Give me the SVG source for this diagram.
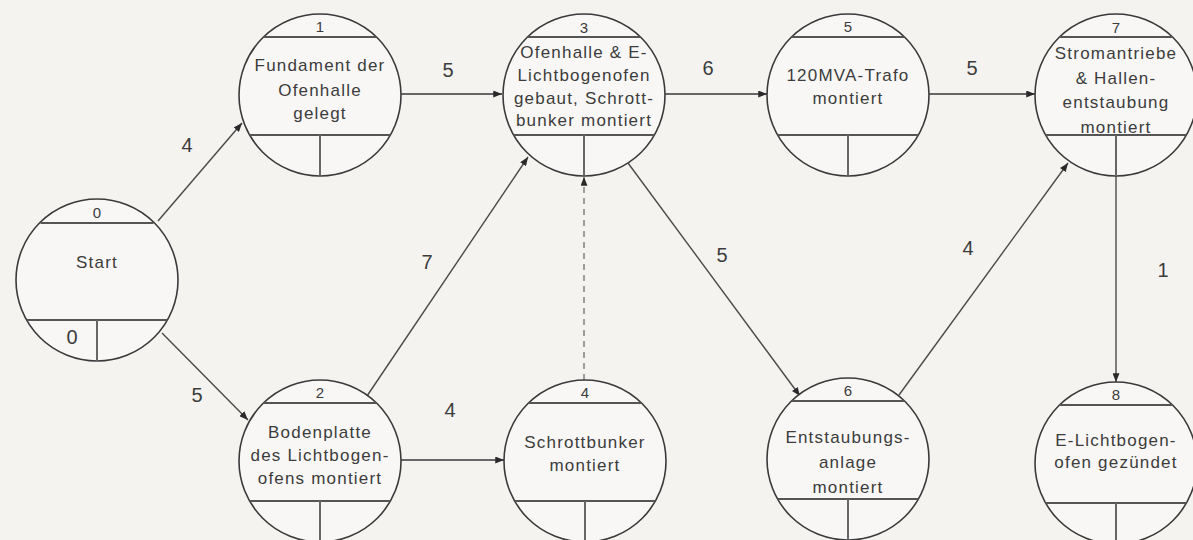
<svg xmlns="http://www.w3.org/2000/svg" width="1193" height="540" viewBox="0 0 1193 540">
<style>
.bg{fill:#f5f3f0}
.c{fill:#f8f7f5;stroke:#3a3a3a;stroke-width:1.6}
.hl{stroke:#555;stroke-width:2}
.dv{stroke:#666;stroke-width:2}
.t{font-family:"Liberation Sans",Arial,sans-serif;font-size:17px;fill:#3c3c3c;text-anchor:middle;letter-spacing:1.2px}
.n{font-family:"Liberation Sans",Arial,sans-serif;font-size:15px;fill:#3c3c3c;text-anchor:middle}
.el{font-family:"Liberation Sans",Arial,sans-serif;font-size:20px;fill:#3c3c3c;text-anchor:middle}
.e{stroke:#4a4a4a;stroke-width:1.4;fill:none;marker-end:url(#ah)}
.eh{stroke:#666;stroke-width:2;fill:none;marker-end:url(#ah)}
.ed{stroke:#888;stroke-width:1.6;fill:none;stroke-dasharray:6 5;marker-end:url(#ah)}
</style>
<defs>
<marker id="ah" viewBox="0 0 10 8" refX="10" refY="4" markerWidth="9" markerHeight="7" markerUnits="userSpaceOnUse" orient="auto">
<path d="M0,0 L10,4 L0,8 Z" fill="#2a2a2a"/>
</marker>
</defs>
<rect class="bg" x="0" y="0" width="1193" height="540"/>

<g id="connectors">
<line class="e" x1="158" y1="221" x2="242" y2="123"/>
<line class="e" x1="162" y1="333" x2="248" y2="420"/>
<line class="eh" x1="401" y1="94" x2="502" y2="94"/>
<line class="e" x1="367" y1="396" x2="528" y2="157"/>
<line class="eh" x1="401" y1="460" x2="504" y2="460"/>
<line class="ed" x1="584" y1="380" x2="584" y2="177"/>
<line class="eh" x1="665" y1="94" x2="767" y2="94"/>
<line class="e" x1="628" y1="163" x2="800" y2="396"/>
<line class="eh" x1="929" y1="94" x2="1035" y2="94"/>
<line class="e" x1="899" y1="395" x2="1068" y2="163"/>
<line class="e" x1="1116" y1="135" x2="1116" y2="382" stroke="#222"/>
<text class="el" x="187" y="152">4</text>
<text class="el" x="197" y="402">5</text>
<text class="el" x="448" y="77">5</text>
<text class="el" x="427" y="269">7</text>
<text class="el" x="450" y="417">4</text>
<text class="el" x="708" y="75">6</text>
<text class="el" x="722" y="262">5</text>
<text class="el" x="972" y="75">5</text>
<text class="el" x="968" y="255">4</text>
<text class="el" x="1163" y="277">1</text>
</g>

<g id="node0" transform="translate(97,280)">
<circle class="c" r="81"/>
<line class="hl" x1="-56.5" y1="-57" x2="56.5" y2="-57"/>
<line class="hl" x1="-70.4" y1="40" x2="70.4" y2="40"/>
<line class="dv" x1="0" y1="40" x2="0" y2="81"/>
<text class="n" x="0" y="-62">0</text>
<text class="t" x="0" y="-12">Start</text>
<text class="el" x="-25" y="64">0</text>
</g>

<g id="node1" transform="translate(320,95)">
<circle class="c" r="81"/>
<line class="hl" x1="-56.5" y1="-58" x2="56.5" y2="-58"/>
<line class="hl" x1="-70.4" y1="40" x2="70.4" y2="40"/>
<line class="dv" x1="0" y1="40" x2="0" y2="81"/>
<text class="n" x="0" y="-63">1</text>
<text class="t" x="0" y="-24">Fundament der</text>
<text class="t" x="0" y="1">Ofenhalle</text>
<text class="t" x="0" y="24">gelegt</text>
</g>

<g id="node2" transform="translate(320,461)">
<circle class="c" r="81"/>
<line class="hl" x1="-56.5" y1="-58" x2="56.5" y2="-58"/>
<line class="hl" x1="-70.4" y1="40" x2="70.4" y2="40"/>
<line class="dv" x1="0" y1="40" x2="0" y2="81"/>
<text class="n" x="0" y="-63">2</text>
<text class="t" x="0" y="-23">Bodenplatte</text>
<text class="t" x="0" y="0">des Lichtbogen-</text>
<text class="t" x="0" y="23">ofens montiert</text>
</g>

<g id="node3" transform="translate(584,95)">
<circle class="c" r="81"/>
<line class="hl" x1="-56.5" y1="-58" x2="56.5" y2="-58"/>
<line class="hl" x1="-70.4" y1="40" x2="70.4" y2="40"/>
<line class="dv" x1="0" y1="40" x2="0" y2="81"/>
<text class="n" x="0" y="-62">3</text>
<text class="t" x="0" y="-37">Ofenhalle &amp; E-</text>
<text class="t" x="0" y="-14">Lichtbogenofen</text>
<text class="t" x="0" y="9">gebaut, Schrott-</text>
<text class="t" x="0" y="31">bunker montiert</text>
</g>

<g id="node4" transform="translate(585,461)">
<circle class="c" r="81"/>
<line class="hl" x1="-56.5" y1="-58" x2="56.5" y2="-58"/>
<line class="hl" x1="-70.4" y1="40" x2="70.4" y2="40"/>
<line class="dv" x1="0" y1="40" x2="0" y2="81"/>
<text class="n" x="0" y="-63">4</text>
<text class="t" x="0" y="-13">Schrottbunker</text>
<text class="t" x="0" y="10">montiert</text>
</g>

<g id="node5" transform="translate(848,95)">
<circle class="c" r="81"/>
<line class="hl" x1="-56.5" y1="-58" x2="56.5" y2="-58"/>
<line class="hl" x1="-70.4" y1="40" x2="70.4" y2="40"/>
<line class="dv" x1="0" y1="40" x2="0" y2="81"/>
<text class="n" x="0" y="-63">5</text>
<text class="t" x="0" y="-14">120MVA-Trafo</text>
<text class="t" x="0" y="9">montiert</text>
</g>

<g id="node6" transform="translate(848,459)">
<circle class="c" r="81"/>
<line class="hl" x1="-56.5" y1="-58" x2="56.5" y2="-58"/>
<line class="hl" x1="-70.4" y1="40" x2="70.4" y2="40"/>
<line class="dv" x1="0" y1="40" x2="0" y2="81"/>
<text class="n" x="0" y="-63">6</text>
<text class="t" x="0" y="-16">Entstaubungs-</text>
<text class="t" x="0" y="9">anlage</text>
<text class="t" x="0" y="34">montiert</text>
</g>

<g id="node7" transform="translate(1116,95)">
<circle class="c" r="81"/>
<line class="hl" x1="-56.5" y1="-58" x2="56.5" y2="-58"/>
<line class="hl" x1="-70.4" y1="40" x2="70.4" y2="40"/>
<line class="dv" x1="0" y1="40" x2="0" y2="81" stroke="#222"/>
<text class="n" x="0" y="-62">7</text>
<text class="t" x="0" y="-36">Stromantriebe</text>
<text class="t" x="0" y="-11">&amp; Hallen-</text>
<text class="t" x="0" y="13">entstaubung</text>
<text class="t" x="0" y="38">montiert</text>
</g>

<g id="node8" transform="translate(1116,463)">
<circle class="c" r="81"/>
<line class="hl" x1="-56.5" y1="-58" x2="56.5" y2="-58"/>
<line class="hl" x1="-70.4" y1="40" x2="70.4" y2="40"/>
<line class="dv" x1="0" y1="40" x2="0" y2="81"/>
<text class="n" x="0" y="-63">8</text>
<text class="t" x="0" y="-17">E-Lichtbogen-</text>
<text class="t" x="0" y="5">ofen gezündet</text>
</g>
</svg>
